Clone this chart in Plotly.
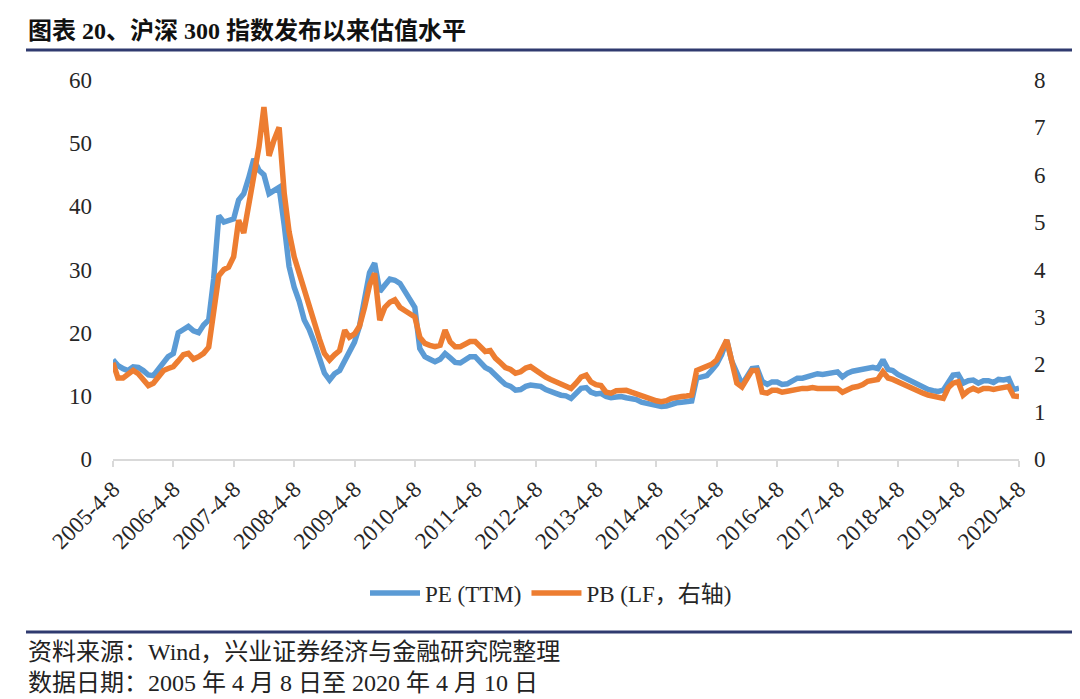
import plotly.graph_objects as go

months = []
for yr in range(2005, 2021):
    for mo in range(1, 13):
        if (yr == 2005 and mo < 4) or (yr == 2020 and mo > 4):
            continue
        day = 10 if (yr == 2020 and mo == 4) else 8
        months.append(f"{yr}-{mo:02d}-{day:02d}")

pe_ttm = [
    15.7, 14.8, 14.3, 14.0, 14.6, 14.5, 14.0, 13.3, 13.2,
    14.2, 15.5, 16.2, 16.7, 20.0, 20.5, 21.0, 20.3, 20.0, 21.2, 22.0, 28.5,
    38.5, 37.5, 37.8, 38.0, 41.0, 42.0, 44.5, 47.5, 45.7, 45.0, 42.0, 42.5,
    43.0, 37.0, 30.5, 27.2, 25.0, 22.0, 20.5, 18.4, 16.0, 13.6, 12.5, 13.5,
    14.0, 15.7, 17.0, 18.5, 21.0, 25.0, 29.5, 31.0, 26.5, 27.5, 28.5, 28.3,
    27.8, 26.5, 25.2, 24.0, 17.5, 16.2, 15.8, 15.4, 15.8, 16.7, 16.0, 15.3,
    15.2, 15.8, 16.2, 16.2, 15.5, 14.5, 14.1, 13.2, 12.5, 11.8, 11.5, 10.9,
    11.0, 11.5, 11.7, 11.6, 11.5, 11.0, 10.6, 10.4, 10.1, 10.0, 9.6, 10.4,
    11.2, 11.3, 10.6, 10.3, 10.4, 9.9, 9.7, 9.8, 9.9, 9.7, 9.6, 9.4,
    9.0, 8.8, 8.6, 8.4, 8.3, 8.4, 8.7, 8.9, 9.0, 9.1, 9.2, 12.8,
    13.0, 13.2, 14.0, 15.0, 16.5, 18.8, 15.5, 13.5, 11.8, 13.0, 14.3, 14.4,
    12.3, 11.8, 12.2, 12.2, 11.8, 11.9, 12.3, 12.8, 12.8, 13.0, 13.3, 13.5,
    13.4, 13.6, 13.7, 13.8, 13.0, 13.6, 13.9, 14.0, 14.2, 14.4, 14.5, 14.3,
    15.7, 14.2, 14.0, 13.4, 13.0, 12.4, 12.0, 11.6, 11.4, 11.0, 10.8, 10.7,
    10.9, 12.3, 13.3, 13.4, 12.0, 12.4, 12.5, 12.0, 12.4, 12.4, 12.1, 12.6,
    12.5, 12.7, 11.0, 11.2,
]

pb_lf = [
    2.03, 1.71, 1.71, 1.80, 1.87, 1.80, 1.67, 1.55, 1.60,
    1.73, 1.87, 1.91, 1.95, 2.07, 2.20, 2.23, 2.11, 2.16, 2.23, 2.36, 3.07,
    3.87, 4.00, 4.05, 4.27, 5.04, 4.77, 5.33, 5.95, 6.59, 7.43, 6.40, 6.73,
    7.00, 5.60, 4.80, 4.27, 3.93, 3.49, 3.20, 2.80, 2.53, 2.23, 2.09, 2.20,
    2.29, 2.72, 2.57, 2.64, 2.80, 3.20, 3.67, 3.92, 2.93, 3.20, 3.31, 3.36,
    3.20, 3.13, 3.08, 3.00, 2.57, 2.44, 2.40, 2.37, 2.40, 2.72, 2.47, 2.37,
    2.37, 2.43, 2.48, 2.48, 2.37, 2.27, 2.29, 2.13, 2.03, 1.93, 1.89, 1.81,
    1.84, 1.92, 1.95, 1.87, 1.81, 1.73, 1.68, 1.63, 1.57, 1.55, 1.49, 1.60,
    1.73, 1.77, 1.63, 1.57, 1.55, 1.41, 1.39, 1.44, 1.45, 1.45, 1.41, 1.37,
    1.32, 1.29, 1.27, 1.23, 1.21, 1.23, 1.28, 1.31, 1.32, 1.33, 1.35, 1.87,
    1.92, 1.95, 2.00, 2.09, 2.27, 2.51, 2.07, 1.60, 1.52, 1.71, 1.87, 1.87,
    1.41, 1.39, 1.45, 1.45, 1.41, 1.43, 1.45, 1.49, 1.49, 1.49, 1.51, 1.49,
    1.48, 1.49, 1.49, 1.49, 1.41, 1.47, 1.51, 1.53, 1.57, 1.64, 1.67, 1.68,
    1.84, 1.71, 1.68, 1.63, 1.57, 1.51, 1.47, 1.41, 1.39, 1.35, 1.32, 1.29,
    1.28, 1.51, 1.60, 1.63, 1.35, 1.44, 1.49, 1.44, 1.49, 1.49, 1.47, 1.49,
    1.52, 1.53, 1.33, 1.32,
]

tick_vals = [f"{y}-04-08" for y in range(2005, 2021)]
tick_text = [f"{y}-4-8" for y in range(2005, 2021)]

title_text = "图表 20、沪深 300 指数发布以来估值水平"
source_text = "资料来源：Wind，兴业证券经济与金融研究院整理"
date_text = "数据日期：2005 年 4 月 8 日至 2020 年 4 月 10 日"

OFF = 8  # page body margin offset
W, H = 1080 - OFF, 699 - OFF
L, R, T, B = 113 - OFF, 1019 - OFF, 80 - OFF, 459 - OFF
PW, PH = R - L, B - T


def px(x):
    return (x - OFF - L) / PW


def py(y):
    return (B - (y - OFF)) / PH


FONT = "Liberation Serif, Times New Roman, Noto Sans CJK SC, serif"
NAVY = "#2f3a6f"

fig = go.Figure()
fig.add_trace(go.Scatter(x=months, y=pe_ttm, name="PE (TTM)", mode="lines",
                         line=dict(color="#5B9BD5", width=5.5), yaxis="y"))
fig.add_trace(go.Scatter(x=months, y=pb_lf, name="PB (LF，右轴)", mode="lines",
                         line=dict(color="#ED7D31", width=5.5), yaxis="y2"))

fig.update_layout(
    width=W, height=H,
    margin=dict(l=L, r=W - R, t=T, b=H - B, pad=0),
    paper_bgcolor="white", plot_bgcolor="white",
    font=dict(family=FONT, size=22, color="#262626"),
    showlegend=True,
    legend=dict(orientation="h", x=px(551), xanchor="center", y=py(593),
                yanchor="middle", font=dict(size=23, family=FONT, color="#262626"),
                itemwidth=50, tracegroupgap=0, bgcolor="rgba(0,0,0,0)"),
    xaxis=dict(type="date", range=["2005-04-08", "2020-04-10"],
               tickvals=tick_vals, ticktext=tick_text, tickangle=-45,
               showgrid=False, zeroline=False,
               showline=True, linecolor="#d9d9d9", linewidth=1.5,
               ticks="outside", ticklen=6, tickcolor="#d9d9d9", tickwidth=1.5,
               tickfont=dict(size=23, family=FONT, color="#262626")),
    yaxis=dict(range=[0, 60], dtick=10, showgrid=False, zeroline=False,
               showline=False, ticks="", ticklabelstandoff=20,
               tickfont=dict(size=23, family=FONT, color="#262626")),
    yaxis2=dict(range=[0, 8], dtick=1, overlaying="y", side="right",
                showgrid=False, zeroline=False, showline=False, ticks="",
                ticklabelstandoff=14,
                tickfont=dict(size=23, family=FONT, color="#262626")),
)

fig.add_shape(type="line", xref="paper", yref="paper",
              x0=px(26), x1=px(1080), y0=py(50), y1=py(50),
              line=dict(color=NAVY, width=3))
fig.add_shape(type="line", xref="paper", yref="paper",
              x0=px(26), x1=px(1080), y0=py(632), y1=py(632),
              line=dict(color=NAVY, width=3))

fig.add_annotation(text=f"<b>{title_text}</b>", xref="paper", yref="paper",
                   x=px(26), y=py(31), xanchor="left", yanchor="middle",
                   showarrow=False, font=dict(size=24, family=FONT, color="#111111"))
fig.add_annotation(text=source_text, xref="paper", yref="paper",
                   x=px(26), y=py(652), xanchor="left", yanchor="middle",
                   showarrow=False, font=dict(size=24, family=FONT, color="#222222"))
fig.add_annotation(text=date_text, xref="paper", yref="paper",
                   x=px(26), y=py(683), xanchor="left", yanchor="middle",
                   showarrow=False, font=dict(size=24, family=FONT, color="#222222"))

fig.write_html("out.html")
